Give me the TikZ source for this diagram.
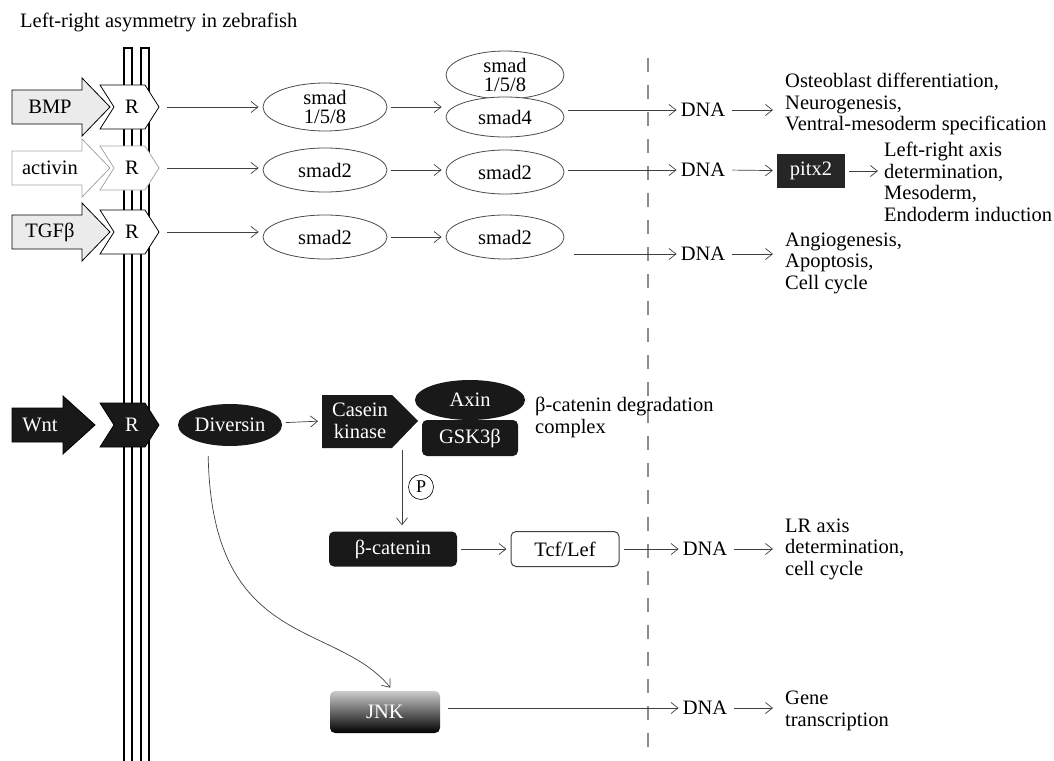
\documentclass[tikz,border=0pt]{standalone}
\usepackage{fontspec}
\setmainfont{Liberation Serif}
\usetikzlibrary{shapes.geometric,arrows.meta}

\begin{document}
\begin{tikzpicture}[x=1pt,y=-1pt,
    txt/.style={inner sep=0pt,font=\fontsize{20.5}{21.5}\selectfont},
    lbl/.style={txt,anchor=west,align=left},
    conn/.style={-{Straight Barb[length=7pt,width=11pt]},black!75,line width=.7pt,
                 shorten <=4pt,shorten >=4pt},
    membrane/.style={line width=1.6pt},
    nucleus/.style={black!45,line width=1.6pt,dash pattern=on 14pt off 13pt},
    ligand/.style={draw=black,fill=black!8,line width=.8pt},
    recep/.style={draw=black,fill=white,line width=.8pt},
    ligpale/.style={draw=black!35,fill=white,line width=.8pt},
    ligdark/.style={draw=black,fill=black!90,line width=.8pt},
    smad/.style={ellipse,draw=black!70,line width=.8pt,fill=white,txt,
                 minimum width=124pt,minimum height=44pt,align=center,
                 font=\fontsize{20.5}{19.5}\selectfont},
    dark/.style={fill=black!90,text=white,txt,align=center},
    darkbox/.style={dark,rounded corners=5pt}]
    \useasboundingbox (0,0) rectangle (1054,760);

    \node[lbl] (title) at (20,22) {Left-right asymmetry in zebrafish};

    %%%%%%%%%% Membrane and nucleus %%%%%%%%%%
    \draw[membrane] (124,48) rectangle (132,765);
    \draw[membrane] (141,48) rectangle (149,765);
    \draw[nucleus] (648,58) -- (648,760);

    %%%%%%%%%% Ligands and receptors %%%%%%%%%%
    \foreach \y/\b/\t/\sty in {107/82/110/ligand, 168/82/110/ligpale, 232/82/110/ligand, 425/63/95/ligdark}
        \draw[\sty] (12,\y-17) -- (\b,\y-17) -- (\b,\y-29) -- (\t,\y) -- (\b,\y+29) -- (\b,\y+17) -- (12,\y+17) -- cycle;

    \foreach \y/\sty in {107/recep, 168/ligpale, 232/recep, 425/ligdark}
        \draw[\sty] (100,\y-22) -- (145,\y-22) -- (159,\y) -- (145,\y+22) -- (100,\y+22) -- (114,\y) -- cycle;

    \node[txt] (bmp) at (50,107) {BMP};
    \node[txt] (activin) at (50,168) {activin};
    \node[txt] (tgf) at (50,232) {TGFβ};
    \node[txt,text=white] (wnt) at (40,425) {Wnt};

    \node[txt] (rbmp) at (132,107) {R};
    \node[txt] (ract) at (132,168) {R};
    \node[txt] (rtgf) at (132,232) {R};
    \node[txt,text=white] (rwnt) at (132,425) {R};

    \coordinate (rbmp-tip) at (163,107);
    \coordinate (ract-tip) at (163,168);
    \coordinate (rtgf-tip) at (163,232);

    %%%%%%%%%% Smads %%%%%%%%%%
    \node[smad] (sbmp) at (325,107) {smad\\1/5/8};
    \node[smad] (sact) at (325,170) {smad2};
    \node[smad] (stgf) at (325,237) {smad2};

    \node[smad,minimum width=118pt,minimum height=42pt] (srec) at (505,75) {smad\\1/5/8};
    \node[smad,minimum width=118pt,minimum height=40pt] (sfour) at (505,117) {smad4};
    \node[smad,minimum width=118pt] (sact2) at (505,172) {smad2};
    \node[smad,minimum width=118pt] (stgf2) at (505,237) {smad2};

    %%%%%%%%%% Wnt pathway %%%%%%%%%%
    \node[dark,ellipse,minimum width=104pt,minimum height=42pt] (div) at (230,425) {Diversin};
    \fill[black!90] (322,395) -- (392,395) -- (418,421) -- (392,448) -- (322,448) -- cycle;
    \node[txt,text=white,align=center,font=\fontsize{20.5}{22}\selectfont] (ck) at (360,421) {Casein\\kinase};
    \coordinate (ck-in) at (322,421);
    \coordinate (ck-out) at (402,450);

    \node[darkbox,minimum width=96pt,minimum height=36pt] (gsk) at (470,438) {GSK3β};
    \node[dark,ellipse,minimum width=110pt,minimum height=40pt] (axin) at (470,400) {Axin};
    \node[lbl,font=\fontsize{20.5}{22}\selectfont] (cmplx) at (535,417) {β-catenin degradation\\complex};

    \node[txt,circle,draw,line width=.6pt,minimum size=25pt,font=\fontsize{18}{18}\selectfont] (phos) at (421,487) {P};

    \node[darkbox,minimum width=128pt,minimum height=35pt] (bcat) at (393,549) {β-catenin};
    \node[txt,draw=black!75,line width=1pt,rounded corners=5pt,minimum width=108pt,minimum height=35pt] (tcf) at (565,549) {Tcf/Lef};

    \node[txt,text=white,rounded corners=5pt,minimum width=110pt,minimum height=42pt,
          top color=black!20,middle color=black!90,bottom color=black] (jnk) at (385,712) {JNK};

    %%%%%%%%%% Nucleus %%%%%%%%%%
    \node[txt] (dna1) at (703,110) {DNA};
    \node[txt] (dna2) at (703,170) {DNA};
    \node[txt] (dna3) at (703,254) {DNA};
    \node[txt] (dna4) at (705,549) {DNA};
    \node[txt] (dna5) at (705,708) {DNA};

    \node[txt,fill=black!85,text=white,minimum width=68pt,minimum height=34pt] (pitx) at (811,171) {pitx2};

    \node[lbl] (out1) at (785,104) {Osteoblast differentiation,\\Neurogenesis,\\Ventral-mesoderm specification};
    \node[lbl] (out2) at (884,182) {Left-right axis\\determination,\\Mesoderm,\\Endoderm induction};
    \node[lbl] (out3) at (785,263) {Angiogenesis,\\Apoptosis,\\Cell cycle};
    \node[lbl] (out4) at (785,549) {LR axis\\determination,\\cell cycle};
    \node[lbl] (out5) at (785,711) {Gene\\transcription};

    %%%%%%%%%% Arrows %%%%%%%%%%
    \draw[conn] (rbmp-tip) -- (sbmp);
    \draw[conn] (ract-tip) -- (ract-tip -| sact.west);
    \draw[conn] (rtgf-tip) -- (rtgf-tip -| stgf.west);

    \draw[conn] (sbmp.east) -- (sbmp.east -| sfour.west);
    \draw[conn] (sact.east) -- (sact.east -| sact2.west);
    \draw[conn] (stgf.east) -- (stgf.east -| stgf2.west);

    \draw[conn] (sfour.east |- dna1) -- (dna1);
    \draw[conn] (sact2.east |- dna2) -- (dna2);
    \draw[conn,shorten <=10pt] (stgf2.east |- dna3) -- (dna3);

    \draw[conn,shorten <=7pt,shorten >=12pt] (dna1.east) -- (out1.west |- dna1);
    \draw[conn,shorten <=7pt] (dna2.east) -- (pitx);
    \draw[conn,shorten >=6pt] (pitx.east) -- (out2.west |- pitx);
    \draw[conn,shorten <=7pt,shorten >=12pt] (dna3.east) -- (out3.west |- dna3);

    \draw[conn] (div) -- (ck-in);
    \draw[conn,shorten <=0pt,shorten >=6pt] (ck-out) -- (bcat.north -| ck-out);
    \draw[conn] (bcat) -- (tcf);
    \draw[conn] (tcf) -- (dna4);
    \draw[conn,shorten <=7pt,shorten >=12pt] (dna4.east) -- (out4.west |- dna4);

    \draw[conn,shorten <=10pt] ([xshift=-22pt]div.south) .. controls (212,650) and (335,620) .. ([xshift=8pt]jnk.north);
    \draw[conn,shorten <=8pt] (jnk.east |- dna5) -- (dna5);
    \draw[conn,shorten <=7pt,shorten >=12pt] (dna5.east) -- (out5.west |- dna5);
\end{tikzpicture}
\end{document}
